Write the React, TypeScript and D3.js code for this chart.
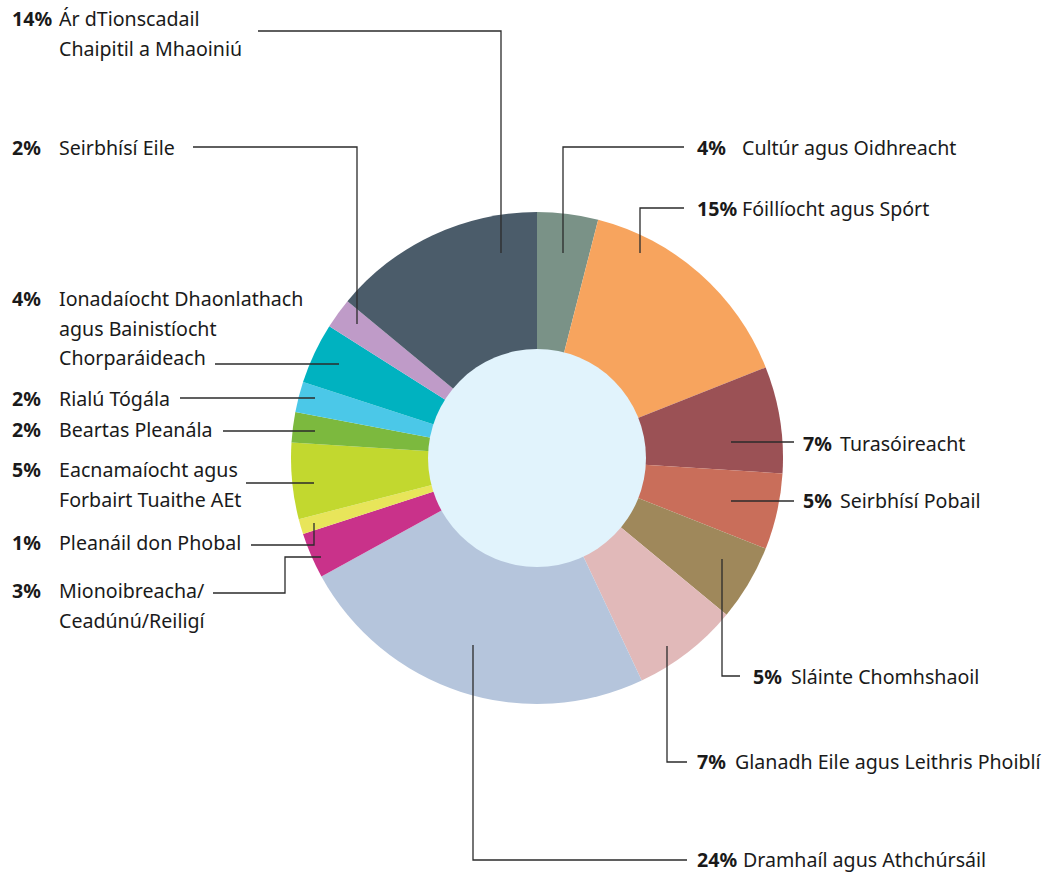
import { pie, arc, PieArcDatum } from 'd3';

const categories = [
  'Cultúr agus Oidhreacht',
  'Fóillíocht agus Spórt',
  'Turasóireacht',
  'Seirbhísí Pobail',
  'Sláinte Chomhshaoil',
  'Glanadh Eile agus Leithris Phoiblí',
  'Dramhaíl agus Athchúrsáil',
  'Mionoibreacha/ Ceadúnú/Reiligí',
  'Pleanáil don Phobal',
  'Eacnamaíocht agus Forbairt Tuaithe AEt',
  'Beartas Pleanála',
  'Rialú Tógála',
  'Ionadaíocht Dhaonlathach agus Bainistíocht Chorparáideach',
  'Seirbhísí Eile',
  'Ár dTionscadail Chaipitil a Mhaoiniú',
];

const values = [4, 15, 7, 5, 5, 7, 24, 3, 1, 5, 2, 2, 4, 2, 14];

// how each label is broken over lines
const labelLines = [
  ['Cultúr agus Oidhreacht'],
  ['Fóillíocht agus Spórt'],
  ['Turasóireacht'],
  ['Seirbhísí Pobail'],
  ['Sláinte Chomhshaoil'],
  ['Glanadh Eile agus Leithris Phoiblí'],
  ['Dramhaíl agus Athchúrsáil'],
  ['Mionoibreacha/', 'Ceadúnú/Reiligí'],
  ['Pleanáil don Phobal'],
  ['Eacnamaíocht agus', 'Forbairt Tuaithe AEt'],
  ['Beartas Pleanála'],
  ['Rialú Tógála'],
  ['Ionadaíocht Dhaonlathach', 'agus Bainistíocht', 'Chorparáideach'],
  ['Seirbhísí Eile'],
  ['Ár dTionscadail', 'Chaipitil a Mhaoiniú'],
];

const colors = [
  '#7a9287', '#f7a45e', '#9b5155', '#c96e5a', '#9f885b',
  '#e1b9b9', '#b5c5dc', '#c9328a', '#e8e55a', '#c2d82f',
  '#7cb93e', '#4bc8e8', '#00b2c0', '#bf9bc8', '#4b5c6a',
];

// label placement: percent x, text x, first baseline, leader polyline
type Place = { px: number; tx: number; y: number; leader: [number, number][] };
const placement: Place[] = [
  { px: 697, tx: 742, y: 155, leader: [[684, 147], [563, 147], [563, 253]] },
  { px: 697, tx: 742, y: 216, leader: [[684, 208], [640, 208], [640, 253]] },
  { px: 803, tx: 840, y: 451, leader: [[731, 442], [794, 442]] },
  { px: 803, tx: 840, y: 508, leader: [[731, 501], [794, 501]] },
  { px: 753, tx: 791, y: 684, leader: [[722, 559], [722, 676], [740, 676]] },
  { px: 697, tx: 735, y: 769, leader: [[667, 646], [667, 762], [687, 762]] },
  { px: 697, tx: 743, y: 867, leader: [[473, 645], [473, 860], [687, 860]] },
  { px: 12, tx: 59, y: 598, leader: [[213, 593], [285, 593], [285, 557], [321, 557]] },
  { px: 12, tx: 59, y: 550, leader: [[251, 545], [314, 545], [314, 523]] },
  { px: 12, tx: 59, y: 477, leader: [[246, 483], [314, 483]] },
  { px: 12, tx: 59, y: 437, leader: [[223, 431], [315, 431]] },
  { px: 12, tx: 59, y: 406, leader: [[180, 398], [315, 398]] },
  { px: 12, tx: 59, y: 306, leader: [[215, 364], [339, 364]] },
  { px: 12, tx: 59, y: 155, leader: [[193, 147], [357, 147], [357, 324]] },
  { px: 12, tx: 59, y: 26, leader: [[258, 31], [501, 31], [501, 253]] },
];

const WIDTH = 1043;
const HEIGHT = 874;
const CX = 537;
const CY = 458;
const OUTER = 246;
const INNER = 109;
const LINE_H = 29.5;
const FONT = '"Noto Sans", "Open Sans", sans-serif';

export default function App() {
  const arcs = pie<number>().sort(null).value((d) => d)(values);
  const arcGen = arc<PieArcDatum<number>>().innerRadius(0).outerRadius(OUTER);

  return (
    <svg
      width={WIDTH}
      height={HEIGHT}
      style={{ position: 'absolute', left: 0, top: 0, background: '#fff' }}
      fontFamily={FONT}
      fontSize={19.6}
    >
      <g transform={`translate(${CX},${CY})`}>
        {arcs.map((a, i) => (
          <path key={categories[i]} d={arcGen(a) ?? ''} fill={colors[i]} />
        ))}
        <circle r={INNER} fill="#e1f3fc" />
      </g>
      <g fill="none" stroke="#2b2b2b" strokeWidth={1.3}>
        {placement.map((p, i) => (
          <polyline key={i} points={p.leader.map((pt) => pt.join(',')).join(' ')} />
        ))}
      </g>
      <g fill="#1a1a1a">
        {labelLines.map((lines, i) => {
          const p = placement[i];
          return (
            <g key={categories[i]}>
              <text x={p.px} y={p.y} fontWeight="bold">
                {values[i]}%
              </text>
              {lines.map((ln, j) => (
                <text key={j} x={p.tx} y={p.y + j * LINE_H}>
                  {ln}
                </text>
              ))}
            </g>
          );
        })}
      </g>
    </svg>
  );
}
